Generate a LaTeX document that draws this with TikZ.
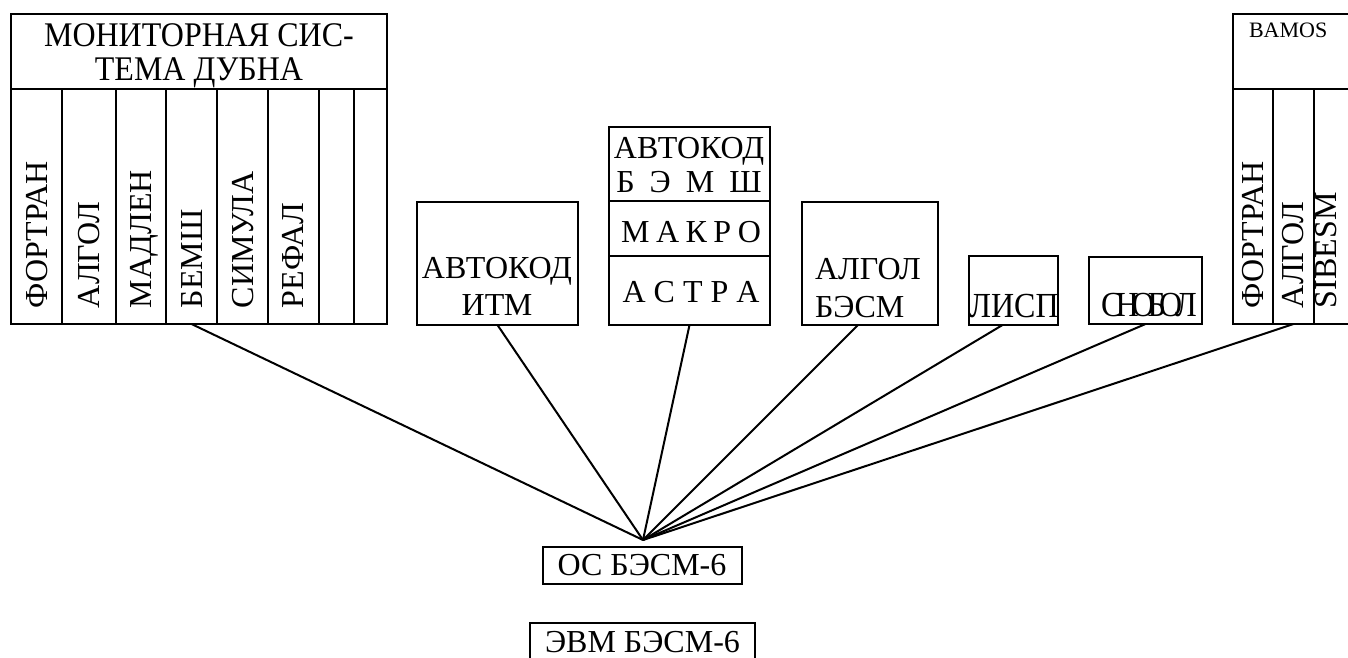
\documentclass[tikz,border=0pt]{standalone}
\usepackage{fontspec}
\setmainfont{Liberation Serif}
\begin{document}
\begin{tikzpicture}[x=1pt,y=-1pt,
  box/.style 2 args={draw, line width=2.6pt, inner sep=0pt, outer sep=0pt, minimum width=#1, minimum height=#2},
  txt/.style={inner sep=0pt, outer sep=0pt, anchor=base, font=\fontsize{32}{36}\selectfont},
  ltxt/.style={txt, anchor=base west},
  vtxt/.style={txt, rotate=90, anchor=base west},
  small/.style={inner sep=0pt, outer sep=0pt, anchor=base west, font=\fontsize{22}{26}\selectfont},
  conn/.style={line width=2pt}]
\useasboundingbox (0,0) rectangle (1348,657);
\clip (0,0) rectangle (1348,657);
% Monitor system Dubna
\node[box={376}{75}] (mhead) at (199,51.5) {};
\node[box={51}{235}] (c1) at (36.5,206.5) {};
\node[box={54}{235}] (c2) at (89,206.5) {};
\node[box={50}{235}] (c3) at (141,206.5) {};
\node[box={51}{235}] (c4) at (191.5,206.5) {};
\node[box={51}{235}] (c5) at (242.5,206.5) {};
\node[box={51}{235}] (c6) at (293.5,206.5) {};
\node[box={35}{235}] (c7) at (336.5,206.5) {};
\node[box={33}{235}] (c8) at (370.5,206.5) {};
\node[txt] (mt1) at (199,46) {\scalebox{1}[1.08]{МОНИТОРНАЯ СИС-}};
\node[txt] (mt2) at (199,80.5) {\scalebox{1}[1.08]{ТЕМА ДУБНА}};
\node[vtxt] (t1) at (47,308) {ФОРТРАН};
\node[vtxt] (t2) at (99,308) {АЛГОЛ};
\node[vtxt] (t3) at (151,308) {МАДЛЕН};
\node[vtxt] (t4) at (202,308) {БЕМШ};
\node[vtxt] (t5) at (253,308) {СИМУЛА};
\node[vtxt] (t6) at (303,308) {РЕФАЛ};
% Avtokod ITM
\node[box={161}{123}] (itm) at (497.5,263.5) {};
\node[txt] (itm1) at (497,278) {АВТОКОД};
\node[txt] (itm2) at (497,315) {ИТМ};
% stacked
\node[box={161}{74}] (s1) at (689.5,164) {};
\node[box={161}{55}] (s2) at (689.5,228.5) {};
\node[box={161}{69}] (s3) at (689.5,290.5) {};
\node[txt] (st1) at (689,158) {АВТОКОД};
\node[txt] (st2) at (689,192) {Б\hspace{15pt}Э\hspace{15pt}М\hspace{15pt}Ш};
\node[txt] (st3) at (691,242) {М\hspace{6.5pt}А\hspace{6.5pt}К\hspace{6.5pt}Р\hspace{6.5pt}О};
\node[txt] (st4) at (691,302) {А\hspace{8pt}С\hspace{8pt}Т\hspace{8pt}Р\hspace{8pt}А};
% Algol BESM
\node[box={136}{123}] (alg) at (870,263.5) {};
\node[ltxt] (al1) at (815,279) {АЛГОЛ};
\node[ltxt] (al2) at (815,317) {БЭСМ};
% Lisp
\node[box={89}{69}] (lisp) at (1013.5,290.5) {};
\node[txt] (lispt) at (1014,317) {\scalebox{1}[1.1]{ЛИСП}};
% Snobol
\node[box={113}{67}] (snob) at (1145.5,290.5) {};
\node[txt] (snobt) at (1149,316) {\scalebox{1}[1.1]{С\kern-7pt Н\kern-7pt О\kern-7pt Б\kern-7pt О\kern-7pt Л}};
% BAMOS
\node[box={127}{75}] (bhead) at (1296.5,51.5) {};
\node[box={40}{235}] (b1) at (1253,206.5) {};
\node[box={41}{235}] (b2) at (1293.5,206.5) {};
\node[box={46}{235}] (b3) at (1337,206.5) {};
\node[small] (bam) at (1249,37) {BAMOS};
\node[vtxt] (bt1) at (1263,308) {ФОРТРАН};
\node[vtxt] (bt2) at (1303,308) {АЛГОЛ};
\node[vtxt] (bt3) at (1336,308) {SIBESM};
% OS and EVM
\node[box={199}{37}] (os) at (642.5,565.5) {};
\node[txt] (ost) at (642,575) {ОС БЭСМ-6};
\node[box={225}{47}] (evm) at (642.5,646.5) {};
\node[txt] (evmt) at (642.5,652) {ЭВМ БЭСМ-6};
% connectors
\coordinate (hub) at (643,540);
\draw[conn] (hub) -- (c4.south);
\draw[conn] (hub) -- (itm.south);
\draw[conn] (hub) -- (s3.south);
\draw[conn] (hub) -- ([xshift=-12pt]alg.south);
\draw[conn] (hub) -- ([xshift=-11pt]lisp.south);
\draw[conn] (hub) -- (snob.south);
\draw[conn] (hub) -- (b2.south);
\end{tikzpicture}
\end{document}
